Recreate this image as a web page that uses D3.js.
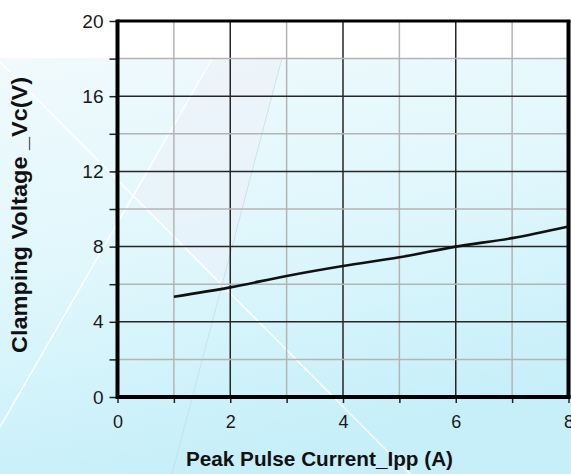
<!DOCTYPE html>
<html>
<head>
<meta charset="utf-8">
<script src="https://cdn.jsdelivr.net/npm/d3@7"></script>
<style>
  html, body { margin: 0; padding: 0; background: #fff; }
  svg { display: block; }
</style>
</head>
<body>
<div id="chart"></div>
<script>
// ---- data ----
const currentIpp = [1, 2, 3, 4, 5, 6, 7, 8];
const clampingVc = [5.33, 5.83, 6.44, 6.97, 7.43, 8.0, 8.45, 9.07];
const xTickValues = [0, 1, 2, 3, 4, 5, 6, 7, 8];
const xTickLabels = ["0", "", "2", "", "4", "", "6", "", "8"];
const yTickValues = [0, 2, 4, 6, 8, 10, 12, 14, 16, 18, 20];
const yTickLabels = ["0", "", "4", "", "8", "", "12", "", "16", "", "20"];
const xTitle = "Peak Pulse Current_Ipp (A)";
const yTitle = "Clamping Voltage _Vc(V)";

const W = 571, H = 474;
const svg = d3.select("#chart").append("svg").attr("width", W).attr("height", H);

// ---- background ----
const defs = svg.append("defs");
const g1 = defs.append("linearGradient").attr("id", "bg").attr("x1", "0").attr("y1", "0").attr("x2", "0.3").attr("y2", "1");
g1.append("stop").attr("offset", "0%").attr("stop-color", "#f1fafd");
g1.append("stop").attr("offset", "50%").attr("stop-color", "#e0f7fc");
g1.append("stop").attr("offset", "100%").attr("stop-color", "#c6eff9");
svg.append("rect").attr("x", 0).attr("y", 0).attr("width", W).attr("height", H).attr("fill", "#ffffff");
svg.append("rect").attr("x", 0).attr("y", 58).attr("width", W).attr("height", H - 58).attr("fill", "url(#bg)");
// decorative glossy shapes
svg.append("path").attr("d", "M212,58 L282,58 L222,285 L133,196 Z").attr("fill", "rgba(236,240,248,0.55)");
svg.append("line").attr("x1", 0).attr("y1", 427).attr("x2", 212).attr("y2", 59).attr("stroke", "#ffffff").attr("stroke-width", 1.5);
svg.append("line").attr("x1", 0).attr("y1", 62).attr("x2", 410).attr("y2", 474).attr("stroke", "#ffffff").attr("stroke-width", 1.5);
svg.append("line").attr("x1", 282).attr("y1", 58).attr("x2", 172).attr("y2", 474).attr("stroke", "rgba(200,215,230,0.7)").attr("stroke-width", 1);

// ---- scales ----
const x = d3.scaleLinear().domain([0, 8]).range([117.5, 568.5]);
const y = d3.scaleLinear().domain([0, 20]).range([397, 21]);

// ---- grid ----
const grid = svg.append("g");
xTickValues.filter(v => v > 0 && v < 8).forEach(v => {
  grid.append("line").attr("x1", x(v)).attr("x2", x(v)).attr("y1", y(20)).attr("y2", y(0))
    .attr("stroke", v % 2 === 0 ? "#262626" : "#b4b4b4").attr("stroke-width", 1.5);
});
yTickValues.filter(v => v > 0 && v < 20).forEach(v => {
  grid.append("line").attr("x1", x(0)).attr("x2", x(8)).attr("y1", y(v)).attr("y2", y(v))
    .attr("stroke", v % 4 === 0 ? "#262626" : "#b4b4b4").attr("stroke-width", 1.5);
});

// ---- axes ----
const xAxis = svg.append("g").attr("transform", `translate(0,${y(0)})`)
  .call(d3.axisBottom(x).tickValues(xTickValues).tickSize(6).tickPadding(12)
    .tickFormat((d, i) => xTickLabels[i]));
xAxis.select(".domain").remove();
xAxis.selectAll(".tick line").attr("stroke", "#222").attr("stroke-width", 1.5);
xAxis.selectAll(".tick text").attr("font-family", "Liberation Sans, Arial, sans-serif")
  .attr("font-size", 18).attr("fill", "#1a1a1a");

const yAxis = svg.append("g").attr("transform", `translate(${x(0)},0)`)
  .call(d3.axisLeft(y).tickValues(yTickValues).tickSize(8).tickPadding(6)
    .tickFormat((d, i) => yTickLabels[i]));
yAxis.select(".domain").remove();
yAxis.selectAll(".tick line").attr("stroke", "#222").attr("stroke-width", 1.5);
yAxis.selectAll(".tick text").attr("font-family", "Liberation Sans, Arial, sans-serif")
  .attr("font-size", 19).attr("fill", "#1a1a1a");

// ---- frame ----
svg.append("line").attr("x1", x(0)).attr("x2", x(8) + 2).attr("y1", y(20)).attr("y2", y(20)).attr("stroke", "#000").attr("stroke-width", 3);
svg.append("line").attr("x1", x(8)).attr("x2", x(8)).attr("y1", y(20)).attr("y2", y(0) + 2).attr("stroke", "#000").attr("stroke-width", 4);
svg.append("line").attr("x1", x(0)).attr("x2", x(8) + 2).attr("y1", y(0)).attr("y2", y(0)).attr("stroke", "#000").attr("stroke-width", 4);
svg.append("line").attr("x1", x(0)).attr("x2", x(0)).attr("y1", y(20) - 1.5).attr("y2", y(0) + 2).attr("stroke", "#000").attr("stroke-width", 4);

// ---- data line ----
const lineGen = d3.line().x((d, i) => x(currentIpp[i])).y(d => y(d)).curve(d3.curveMonotoneX);
svg.append("path").datum(clampingVc).attr("d", lineGen)
  .attr("fill", "none").attr("stroke", "#111").attr("stroke-width", 2.6);

// ---- titles ----
svg.append("text").attr("x", 319.5).attr("y", 466).attr("text-anchor", "middle")
  .attr("font-family", "Liberation Sans, Arial, sans-serif").attr("font-weight", "bold")
  .attr("font-size", 21).attr("fill", "#111")
  .attr("textLength", 267).attr("lengthAdjust", "spacingAndGlyphs").text(xTitle);
svg.append("text").attr("transform", "translate(27,215) rotate(-90)").attr("text-anchor", "middle")
  .attr("font-family", "Liberation Sans, Arial, sans-serif").attr("font-weight", "bold")
  .attr("font-size", 22).attr("fill", "#111")
  .attr("textLength", 276).attr("lengthAdjust", "spacingAndGlyphs").text(yTitle);
</script>
</body>
</html>
